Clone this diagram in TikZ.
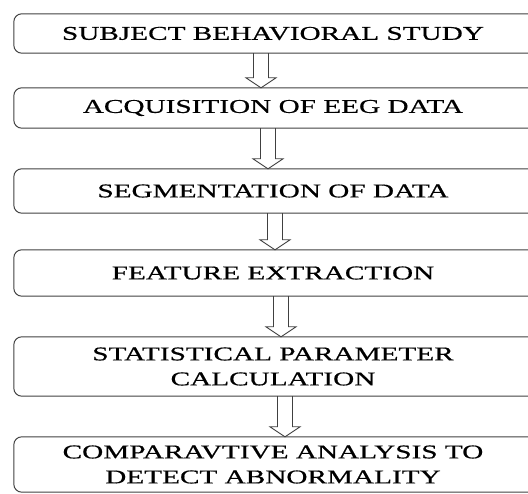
\documentclass[tikz,border=0pt]{standalone}
\usepackage{fontspec}
\setmainfont{Liberation Serif}[FakeStretch=1.5,FakeBold=0.6]
\usepackage{tikz}
\usetikzlibrary{calc}

\tikzset{
    stepbox/.style={minimum width=518pt, align=center, inner sep=0pt,
        font=\fontsize{19.5}{25}\selectfont},
    boxline/.style={draw=black!75, line width=1pt, rounded corners=8pt},
    hollow/.style={draw=black!75, line width=0.9pt, to path={
        let \p1=(\tikztostart), \p2=(\tikztotarget) in
        (\x1-7.5pt,\y1) -- (\x1-7.5pt,\y2+10pt) -- (\x1-15pt,\y2+10pt) -- (\x1,\y2)
        -- (\x1+15pt,\y2+10pt) -- (\x1+7.5pt,\y2+10pt) -- (\x1+7.5pt,\y1)}}
}

\begin{document}
\begin{tikzpicture}[x=1pt,y=-1pt]
        \useasboundingbox (0,0) rectangle (528,494);

        % Steps of the study (top to bottom)
        \node[stepbox, minimum height=39pt] (s1) at (273,33.5) {SUBJECT BEHAVIORAL STUDY};
        \node[stepbox, minimum height=40pt] (s2) at (273,108) {ACQUISITION OF EEG DATA};
        \node[stepbox, minimum height=44pt] (s3) at (273,191) {SEGMENTATION OF DATA};
        \node[stepbox, minimum height=46pt] (s4) at (273,273) {FEATURE EXTRACTION};
        \node[stepbox, minimum height=59pt] (s5) at (273,366.5) {STATISTICAL PARAMETER\\CALCULATION};
        \node[stepbox, minimum height=55pt] (s6) at (273,464.5) {COMPARAVTIVE ANALYSIS TO\\DETECT ABNORMALITY};

        % Boxes run past the right edge of the page
        \foreach \n in {s1,s2,s3,s4,s5,s6} {
            \draw[boxline] (\n.north west) rectangle ([xshift=20pt]\n.south east);
        }

        % Hollow arrows between the steps
        \foreach \a/\b/\s in {s1/s2/-12, s2/s3/-5, s3/s4/2, s4/s5/8, s5/s6/12} {
            \draw[hollow] ([xshift=\s pt]\a.south) to ([xshift=\s pt]\b.north);
        }

    \end{tikzpicture}
\end{document}
